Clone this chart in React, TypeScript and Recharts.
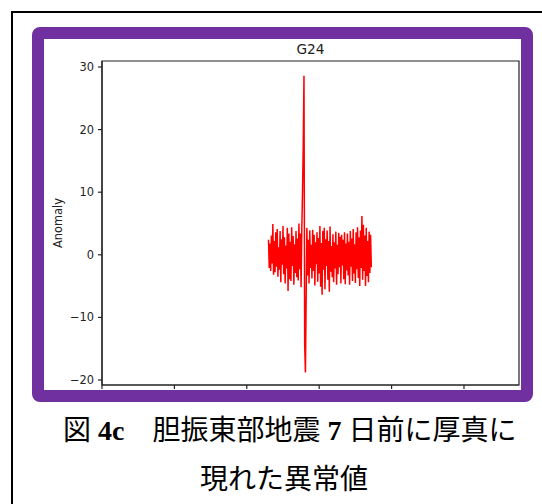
import { Line, LineChart, ReferenceArea, XAxis, YAxis } from "recharts";

// G24 anomaly series, one value per sample index starting at startIndex
const startIndex = 230;
const anomaly = [
  2.4, -2.1, 1.8, -2.6, 3.1, -1.4, 4.9, -3.2, 2.2, -2.8,
  3.6, -1.9, 4.1, -3.5, 1.2, -2.4, 3.8, -4.4, 2.5, -1.6,
  4.6, -3.1, 2.8, -4.6, 1.5, -2.2, 4.3, -5.8, 3.4, -3.9,
  2.1, -4.2, 4.4, -1.8, 3.0, -4.8, 1.7, -2.9, 3.8, -3.6,
  2.6, -4.1, 5.0, -2.3, 3.4, -5.2, 4.1, 10.2, 17.6, 28.6,
  -14.5, -18.8, -6.8, 4.3, -3.3, 2.4, -4.6, 3.9, -2.1, 1.6,
  -3.8, 4.0, -2.6, 3.2, -4.9, 2.0, -1.5, 3.6, -4.3, 2.7,
  -3.0, 4.6, -5.1, 1.9, -6.4, 3.8, -2.4, 4.3, -5.5, 2.5,
  -1.8, 3.9, -4.0, 2.2, -5.9, 4.5, -2.7, 1.4, -3.6, 3.3,
  -4.4, 2.0, -2.2, 3.7, -4.8, 1.6, -3.1, 3.5, -2.0, 2.9,
  -4.6, 3.2, -1.7, 2.4, -3.9, 3.6, -4.7, 1.8, -2.5, 3.4,
  -3.3, 2.1, -4.8, 3.8, -1.9, 2.6, -4.2, 4.1, -3.0, 1.7,
  -4.5, 3.6, -2.3, 4.4, -3.7, 2.8, -5.0, 3.9, -2.1, 6.2,
  -4.0, 4.8, -2.6, 3.1, -5.0, 4.3, -3.4, 2.2, -4.4, 3.7,
  -2.9, 3.2, -2.0,
];

const xTicks = [0, 100, 200, 300, 400, 500];
const yTicks = [-20, -10, 0, 10, 20, 30];
const xDomain: [number, number] = [0, 576];
const yDomain: [number, number] = [-20.8, 30.96];

const title = "G24";
const yLabel = "Anomaly";
// caption pieces: [text, isLatin]
const captionLine1: [string, boolean][] = [
  ["図", false],
  [" 4c", true],
  ["\u3000胆振東部地震", false],
  [" 7 ", true],
  ["日前に厚真に", false],
];
const captionLine2 = "現れた異常値";

const data = anomaly.map((value, i) => ({ x: startIndex + i, value }));

const mplFont = '"DejaVu Sans", sans-serif';
const captionFont = '"Liberation Serif", "Noto Sans CJK JP", serif';

const fmtMinus = (v: number) => (v < 0 ? "\u2212" + Math.abs(v) : String(v));

const YLabel = (props: any) => {
  const vb = props.viewBox || { x: 0, y: 0, width: 0, height: 0 };
  const x = vb.x + 14;
  const y = vb.y + vb.height / 2;
  return (
    <text x={x} y={y} transform={`rotate(-90, ${x}, ${y})`} textAnchor="middle" dominantBaseline="central" fontFamily={mplFont} fontSize={11.4} fill="#222">
      {yLabel}
    </text>
  );
};

const captionStyle = { position: "absolute" as const, whiteSpace: "pre" as const, fontFamily: captionFont, fontWeight: 400, fontSize: 28, lineHeight: "28px", color: "#000" };

const App = () => {
  return (
    <div style={{ position: "absolute", left: 0, top: 0, width: 542, height: 504, overflow: "hidden", background: "#fff" }}>
      <div style={{ position: "absolute", left: 11, top: 11, width: 560, height: 520, border: "2px solid #000", boxSizing: "border-box" }} />
      <div style={{ position: "absolute", left: 44, top: 39, width: 477, height: 351, overflow: "hidden" }}>
        <LineChart width={477} height={380} data={data} margin={{ top: 22, right: 2, bottom: 4, left: 0 }}>
          <XAxis
            type="number"
            dataKey="x"
            domain={xDomain}
            ticks={xTicks}
            allowDataOverflow
            height={30}
            tickSize={4}
            tickFormatter={() => ""}
            axisLine={{ stroke: "#222", strokeWidth: 1.2 }}
            tickLine={{ stroke: "#222", strokeWidth: 1.2 }}
          />
          <YAxis
            type="number"
            domain={yDomain}
            ticks={yTicks}
            allowDataOverflow
            width={58}
            tickSize={4}
            tickMargin={4}
            tickFormatter={fmtMinus}
            tick={{ fontFamily: mplFont, fontSize: 11.4, fill: "#222" }}
            axisLine={{ stroke: "#222", strokeWidth: 1.2 }}
            tickLine={{ stroke: "#222", strokeWidth: 1.2 }}
            label={<YLabel />}
          />
          <ReferenceArea x1={xDomain[0]} x2={xDomain[1]} y1={yDomain[0]} y2={yDomain[1]} fill="none" stroke="#222" strokeWidth={1.2} fillOpacity={0} />
          <Line type="linear" dataKey="value" stroke="#ff0000" strokeWidth={1.5} dot={false} isAnimationActive={false} />
        </LineChart>
      </div>
      <div style={{ position: "absolute", left: 32, top: 27, width: 501, height: 375, border: "12px solid #7030A0", borderRadius: 8, boxSizing: "border-box" }} />
      <div style={{ position: "absolute", left: 210, top: 42, width: 201, textAlign: "center", fontFamily: mplFont, fontSize: 13.7, lineHeight: "14px", color: "#222" }}>{title}</div>
      <div style={{ ...captionStyle, left: 63, top: 417 }}>
        {captionLine1.map(([t, latin], i) => (
          <span key={i} style={{ fontWeight: latin ? 700 : 400 }}>{t}</span>
        ))}
      </div>
      <div style={{ ...captionStyle, left: 200, top: 466 }}>{captionLine2}</div>
    </div>
  );
};

export default App;
